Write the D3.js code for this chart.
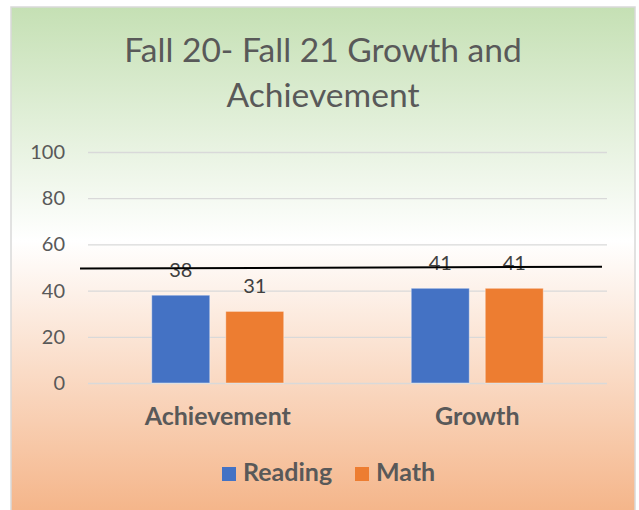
<!DOCTYPE html>
<html>
<head>
<meta charset="utf-8">
<script src="https://cdn.jsdelivr.net/npm/d3@7"></script>
<style>
  html, body { margin: 0; padding: 0; background: #ffffff; }
  svg { display: block; }
</style>
</head>
<body>
<div id="chart"></div>
<script>
// data
const categories = ["Achievement", "Growth"];
const seriesNames = ["Reading", "Math"];
const readingValues = [38, 41];
const mathValues = [31, 41];
const yTicks = [0, 20, 40, 60, 80, 100];
const titleLines = ["Fall 20- Fall 21 Growth and", "Achievement"];
// hand-drawn benchmark line, value at its left and right ends
const benchmark = [49.6, 50.3];

const colors = { Reading: "#4472c4", Math: "#ed7d31" };
const W = 639, H = 510;
const frame = { x: 11, y: 7, w: 624, h: 520 };
const plot = { left: 88, right: 607, top: 152, bottom: 383 };
const font = "Lato, 'Open Sans', sans-serif";

const svg = d3.select("#chart")
  .append("svg")
    .attr("width", W)
    .attr("height", H);

// background gradient, green -> white -> orange
const grad = svg.append("defs")
  .append("linearGradient")
    .attr("id", "bg")
    .attr("x1", 0).attr("y1", 0)
    .attr("x2", 0).attr("y2", 1);
grad.append("stop").attr("offset", "0%").attr("stop-color", "#c5e0b4");
grad.append("stop").attr("offset", "45%").attr("stop-color", "#ffffff");
grad.append("stop").attr("offset", "100%").attr("stop-color", "#f4b183");

svg.append("rect")
  .attr("x", frame.x)
  .attr("y", frame.y)
  .attr("width", frame.w)
  .attr("height", frame.h)
  .attr("fill", "url(#bg)")
  .attr("stroke", "#d9d9d9")
  .attr("stroke-width", 1.5);

// title
svg.append("text")
  .attr("text-anchor", "middle")
  .attr("font-family", font)
  .attr("font-size", 33.6)
  .attr("fill", "#595959")
  .selectAll("tspan")
  .data(titleLines)
  .enter()
  .append("tspan")
    .attr("x", frame.x + frame.w / 2)
    .attr("y", (d, i) => 62 + i * 45)
    .text(d => d);

// scales
const y = d3.scaleLinear().domain([0, 100]).range([plot.bottom, plot.top]);
const x0 = d3.scaleBand().domain(categories).range([plot.left, plot.right]);
const x1 = d3.scaleBand()
  .domain(seriesNames)
  .range([x0.bandwidth() / 2 - 66, x0.bandwidth() / 2 + 66])
  .paddingInner(0.216);

// gridlines + y labels
const yAxis = d3.axisLeft(y)
  .tickValues(yTicks)
  .tickSize(-(plot.right - plot.left))
  .tickPadding(23);
const gy = svg.append("g")
  .attr("transform", `translate(${plot.left},0)`)
  .call(yAxis);
gy.select(".domain").remove();
gy.selectAll(".tick line")
  .attr("stroke", "#d9d9d9")
  .attr("stroke-width", 1.3);
gy.selectAll(".tick text")
  .attr("font-family", font)
  .attr("font-size", 20)
  .attr("fill", "#595959");

// bars
const rows = categories.map((c, i) => ({
  category: c,
  values: [
    { series: "Reading", value: readingValues[i] },
    { series: "Math", value: mathValues[i] }
  ]
}));

const groups = svg.selectAll("g.group")
  .data(rows)
  .enter()
  .append("g")
    .attr("class", "group")
    .attr("transform", d => `translate(${x0(d.category)},0)`);

groups.selectAll("rect")
  .data(d => d.values)
  .enter()
  .append("rect")
    .attr("x", d => x1(d.series))
    .attr("y", d => y(d.value))
    .attr("width", x1.bandwidth())
    .attr("height", d => y(0) - y(d.value))
    .attr("fill", d => colors[d.series])
    .attr("stroke", "#ffffff")
    .attr("stroke-opacity", 0.4)
    .attr("stroke-width", 1);

groups.selectAll("text")
  .data(d => d.values)
  .enter()
  .append("text")
    .text(d => d.value)
    .attr("x", d => x1(d.series) + x1.bandwidth() / 2)
    .attr("y", d => y(d.value) - 18)
    .attr("text-anchor", "middle")
    .attr("font-family", font)
    .attr("font-size", 20)
    .attr("fill", "#404040");

// benchmark line
svg.append("line")
  .attr("x1", plot.left - 8)
  .attr("x2", plot.right - 5)
  .attr("y1", y(benchmark[0]))
  .attr("y2", y(benchmark[1]))
  .attr("stroke", "#000000")
  .attr("stroke-width", 2);

// category labels
svg.selectAll("text.cat")
  .data(categories)
  .enter()
  .append("text")
    .attr("class", "cat")
    .text(d => d)
    .attr("x", d => x0(d) + x0.bandwidth() / 2)
    .attr("y", 425)
    .attr("text-anchor", "middle")
    .attr("font-family", font)
    .attr("font-weight", "bold")
    .attr("font-size", 25)
    .attr("fill", "#595959");

// legend
const legend = svg.append("g").attr("transform", "translate(222,481)");
const legendX = [0, 133];
const items = legend.selectAll("g")
  .data(seriesNames)
  .enter()
  .append("g")
    .attr("transform", (d, i) => `translate(${legendX[i]},0)`);
items.append("rect")
  .attr("x", 0)
  .attr("y", -14)
  .attr("width", 14)
  .attr("height", 14)
  .attr("fill", d => colors[d]);
items.append("text")
  .text(d => d)
  .attr("x", 21)
  .attr("y", 0)
  .attr("font-family", font)
  .attr("font-weight", "bold")
  .attr("font-size", 25)
  .attr("fill", "#595959");
</script>
</body>
</html>
